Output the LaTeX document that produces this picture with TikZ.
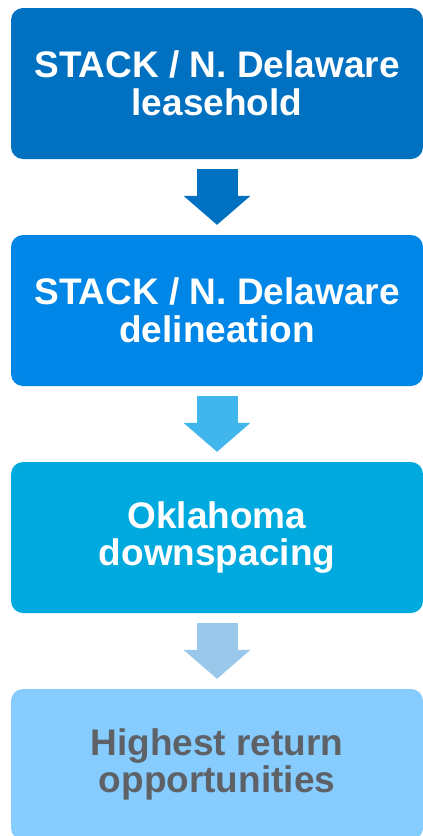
\documentclass[tikz,border=0pt]{standalone}
\usepackage{fontspec}
\setmainfont{Liberation Sans}
\usetikzlibrary{positioning,arrows.meta}

\definecolor{leaseblue}{RGB}{0,112,192}
\definecolor{delinblue}{RGB}{0,134,230}
\definecolor{delinarrow}{RGB}{64,182,236}
\definecolor{downblue}{RGB}{0,170,222}
\definecolor{downarrow}{RGB}{154,200,235}
\definecolor{returnblue}{RGB}{134,204,255}
\definecolor{returngray}{RGB}{94,98,102}

\begin{document}
\begin{tikzpicture}[
	x=1pt, y=1pt,
	node distance=227pt,
	on grid,
	align=center,
	font=\bfseries\fontsize{37}{37.5}\selectfont,
	stage/.style={
		rectangle,
		rounded corners=12pt,
		minimum width=412pt,
		minimum height=151pt,
		inner sep=0pt,
		text=white
	},
	link/.style={
		line width=41pt,
		shorten <=10pt,
		shorten >=10pt,
		-{Triangle[width=67pt,length=29pt,line width=0pt]}
	}]

	\useasboundingbox (0,0) rectangle (423,-836);

	\node[stage, fill=leaseblue] (lease) at (217,-83.5) {STACK / N. Delaware\\leasehold};
	\node[stage, fill=delinblue, below=of lease] (delin) {STACK / N. Delaware\\delineation};
	\node[stage, fill=downblue, below=of delin] (down) {Oklahoma\\downspacing};
	\node[stage, fill=returnblue, text=returngray, below=of down] (return) {Highest return\\opportunities};

	\draw[link, leaseblue] (lease.south) -- (delin.north);
	\draw[link, delinarrow] (delin.south) -- (down.north);
	\draw[link, downarrow] (down.south) -- (return.north);
\end{tikzpicture}
\end{document}
